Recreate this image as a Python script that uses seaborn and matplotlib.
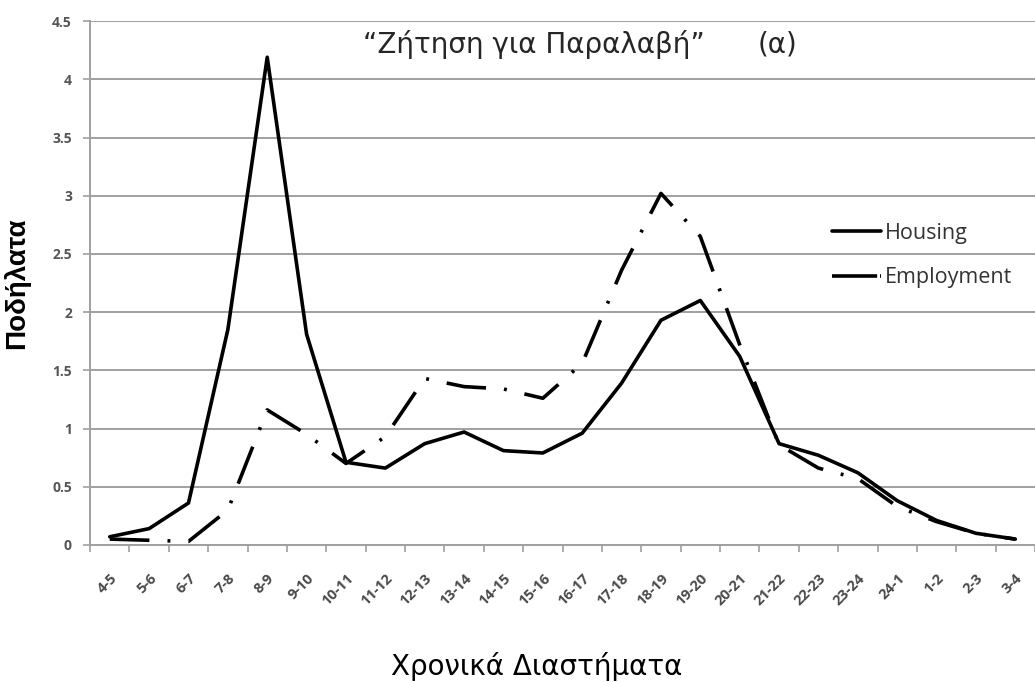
import numpy as np
import pandas as pd
import seaborn as sns
import matplotlib
matplotlib.use('Agg')
import matplotlib.pyplot as plt
from matplotlib.ticker import FixedLocator

slots = ['4-5', '5-6', '6-7', '7-8', '8-9', '9-10', '10-11', '11-12', '12-13', '13-14',
         '14-15', '15-16', '16-17', '17-18', '18-19', '19-20', '20-21', '21-22', '22-23',
         '23-24', '24-1', '1-2', '2-3', '3-4']
housing = [0.07, 0.14, 0.36, 1.85, 4.19, 1.81, 0.71, 0.66, 0.87, 0.97, 0.81, 0.79,
           0.96, 1.39, 1.93, 2.10, 1.62, 0.87, 0.77, 0.62, 0.38, 0.21, 0.10, 0.05]
employment = [0.05, 0.04, 0.03, 0.30, 1.16, 0.95, 0.70, 0.93, 1.43, 1.36, 1.34, 1.26,
              1.56, 2.36, 3.02, 2.65, 1.72, 0.86, 0.66, 0.57, 0.33, 0.20, 0.10, 0.05]
series = ['Housing', 'Employment']

df = pd.DataFrame({
    'slot': slots * 2,
    'value': housing + employment,
    'series': [series[0]] * len(slots) + [series[1]] * len(slots),
})

sns.set_theme(style='white')
plt.rcParams['font.family'] = ['Liberation Sans', 'DejaVu Sans']

fig = plt.figure(figsize=(10.35, 6.82), dpi=100)
ax = fig.add_axes([0.087, 0.201, 0.913, 0.768])

sns.lineplot(data=df, x='slot', y='value', style='series', sort=False,
             dashes={'Housing': '', 'Employment': (11, 5, 0.8, 5)},
             color='black', linewidth=2.6, ax=ax)

ax.set_ylim(0, 4.5)
ax.set_xlim(-0.5, len(slots) - 0.5)
ax.set_yticks(np.arange(0, 4.51, 0.5))
ax.set_yticklabels(['0', '0.5', '1', '1.5', '2', '2.5', '3', '3.5', '4', '4.5'])
ax.yaxis.grid(True, color='#a0a0a0', linewidth=1.4)
ax.set_axisbelow(True)

for s in ['top', 'right']:
    ax.spines[s].set_visible(False)
for s in ['left', 'bottom']:
    ax.spines[s].set_color('#a0a0a0')
    ax.spines[s].set_linewidth(1.4)

# tick marks sit between the categories, labels under each category
ax.xaxis.set_minor_locator(FixedLocator(np.arange(-0.5, len(slots), 1)))
ax.tick_params(axis='x', which='major', length=0, pad=19)
ax.tick_params(axis='x', which='minor', bottom=True, length=5, width=1.2, color='#a0a0a0')
ax.tick_params(axis='y', left=True, length=5, width=1.2, color='#a0a0a0', pad=8)
for lab in ax.get_xticklabels():
    lab.set_rotation(45)
    lab.set_ha('right')
    lab.set_rotation_mode('anchor')
    lab.set_fontsize(10.5)
    lab.set_color('#4a4a4a')
    lab.set_family(['Open Sans', 'DejaVu Sans'])
    lab.set_weight('bold')
for lab in ax.get_yticklabels():
    lab.set_fontsize(10)
    lab.set_color('#555555')
    lab.set_family(['Open Sans', 'DejaVu Sans'])
    lab.set_weight('bold')

ax.set_xlabel('Χρονικά Διαστήματα', fontsize=20, color='black', family='DejaVu Sans')
ax.xaxis.set_label_coords(0.473, -0.205)
ax.set_ylabel('Ποδήλατα', fontsize=20, fontweight='bold', labelpad=16, color='black')

ax.text(0.47, 0.955, '“Ζήτηση για Παραλαβή”', transform=ax.transAxes,
        ha='center', va='center', fontsize=20, family='DejaVu Sans')
ax.text(0.728, 0.955, '(α)', transform=ax.transAxes,
        ha='center', va='center', fontsize=20, family='DejaVu Sans')

leg = ax.legend(loc='upper left', bbox_to_anchor=(0.785, 0.615), frameon=False,
                fontsize=15.5, handlelength=2.3, handletextpad=0.15, labelspacing=1.1,
                borderaxespad=0, borderpad=0)
for t in leg.get_texts():
    t.set_color('#333333')
    t.set_family(['Open Sans', 'DejaVu Sans'])
leg.get_lines()[1].set_dashes((12.5, 0.8, 0.5, 2))

fig.savefig('out.png', dpi=100)
